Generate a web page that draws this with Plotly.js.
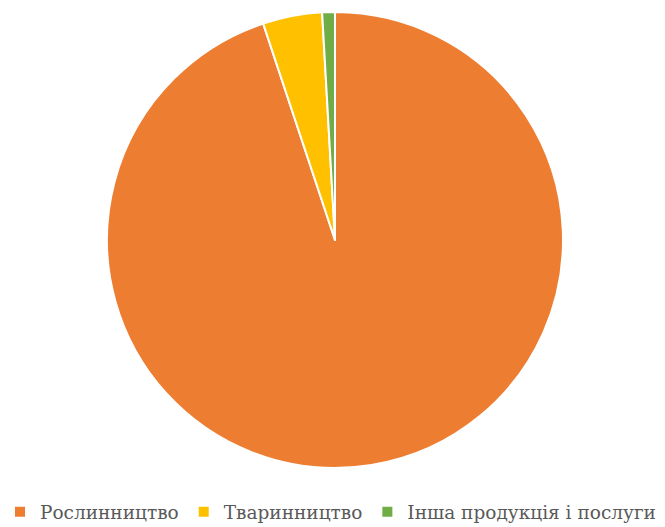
<!DOCTYPE html>
<html>
<head>
<meta charset="utf-8">
<script src="https://cdn.plot.ly/plotly-3.0.1.min.js"></script>
<style>html,body{margin:0;padding:0;background:#fff;}#chart{width:665px;height:527px;}</style>
</head>
<body>
<div id="chart"></div>
<script>
const categories = ["Рослинництво", "Тваринництво", "Інша продукція і послуги"];
const shares = [94.9, 4.2, 0.9];
const colors = ["#ED7D31", "#FFC000", "#70AD47"];

const data = [{
  type: "pie",
  labels: categories,
  values: shares,
  sort: false,
  direction: "clockwise",
  rotation: 0,
  textinfo: "none",
  hoverinfo: "label+percent",
  marker: {colors: colors, line: {color: "#ffffff", width: 2}}
}];

const layout = {
  width: 665,
  height: 527,
  margin: {l: 5, r: 0, t: 12, b: 59, autoexpand: false},
  paper_bgcolor: "#ffffff",
  showlegend: true,
  legend: {
    orientation: "h",
    xref: "container",
    x: -0.008, xanchor: "left",
    y: -0.097, yanchor: "middle",
    font: {family: "DejaVu Serif, Liberation Serif, serif", size: 18.5, color: "#595959"},
    itemwidth: 30,
    traceorder: "normal"
  }
};

Plotly.newPlot("chart", data, layout, {displayModeBar: false, staticPlot: true});
</script>
</body>
</html>
